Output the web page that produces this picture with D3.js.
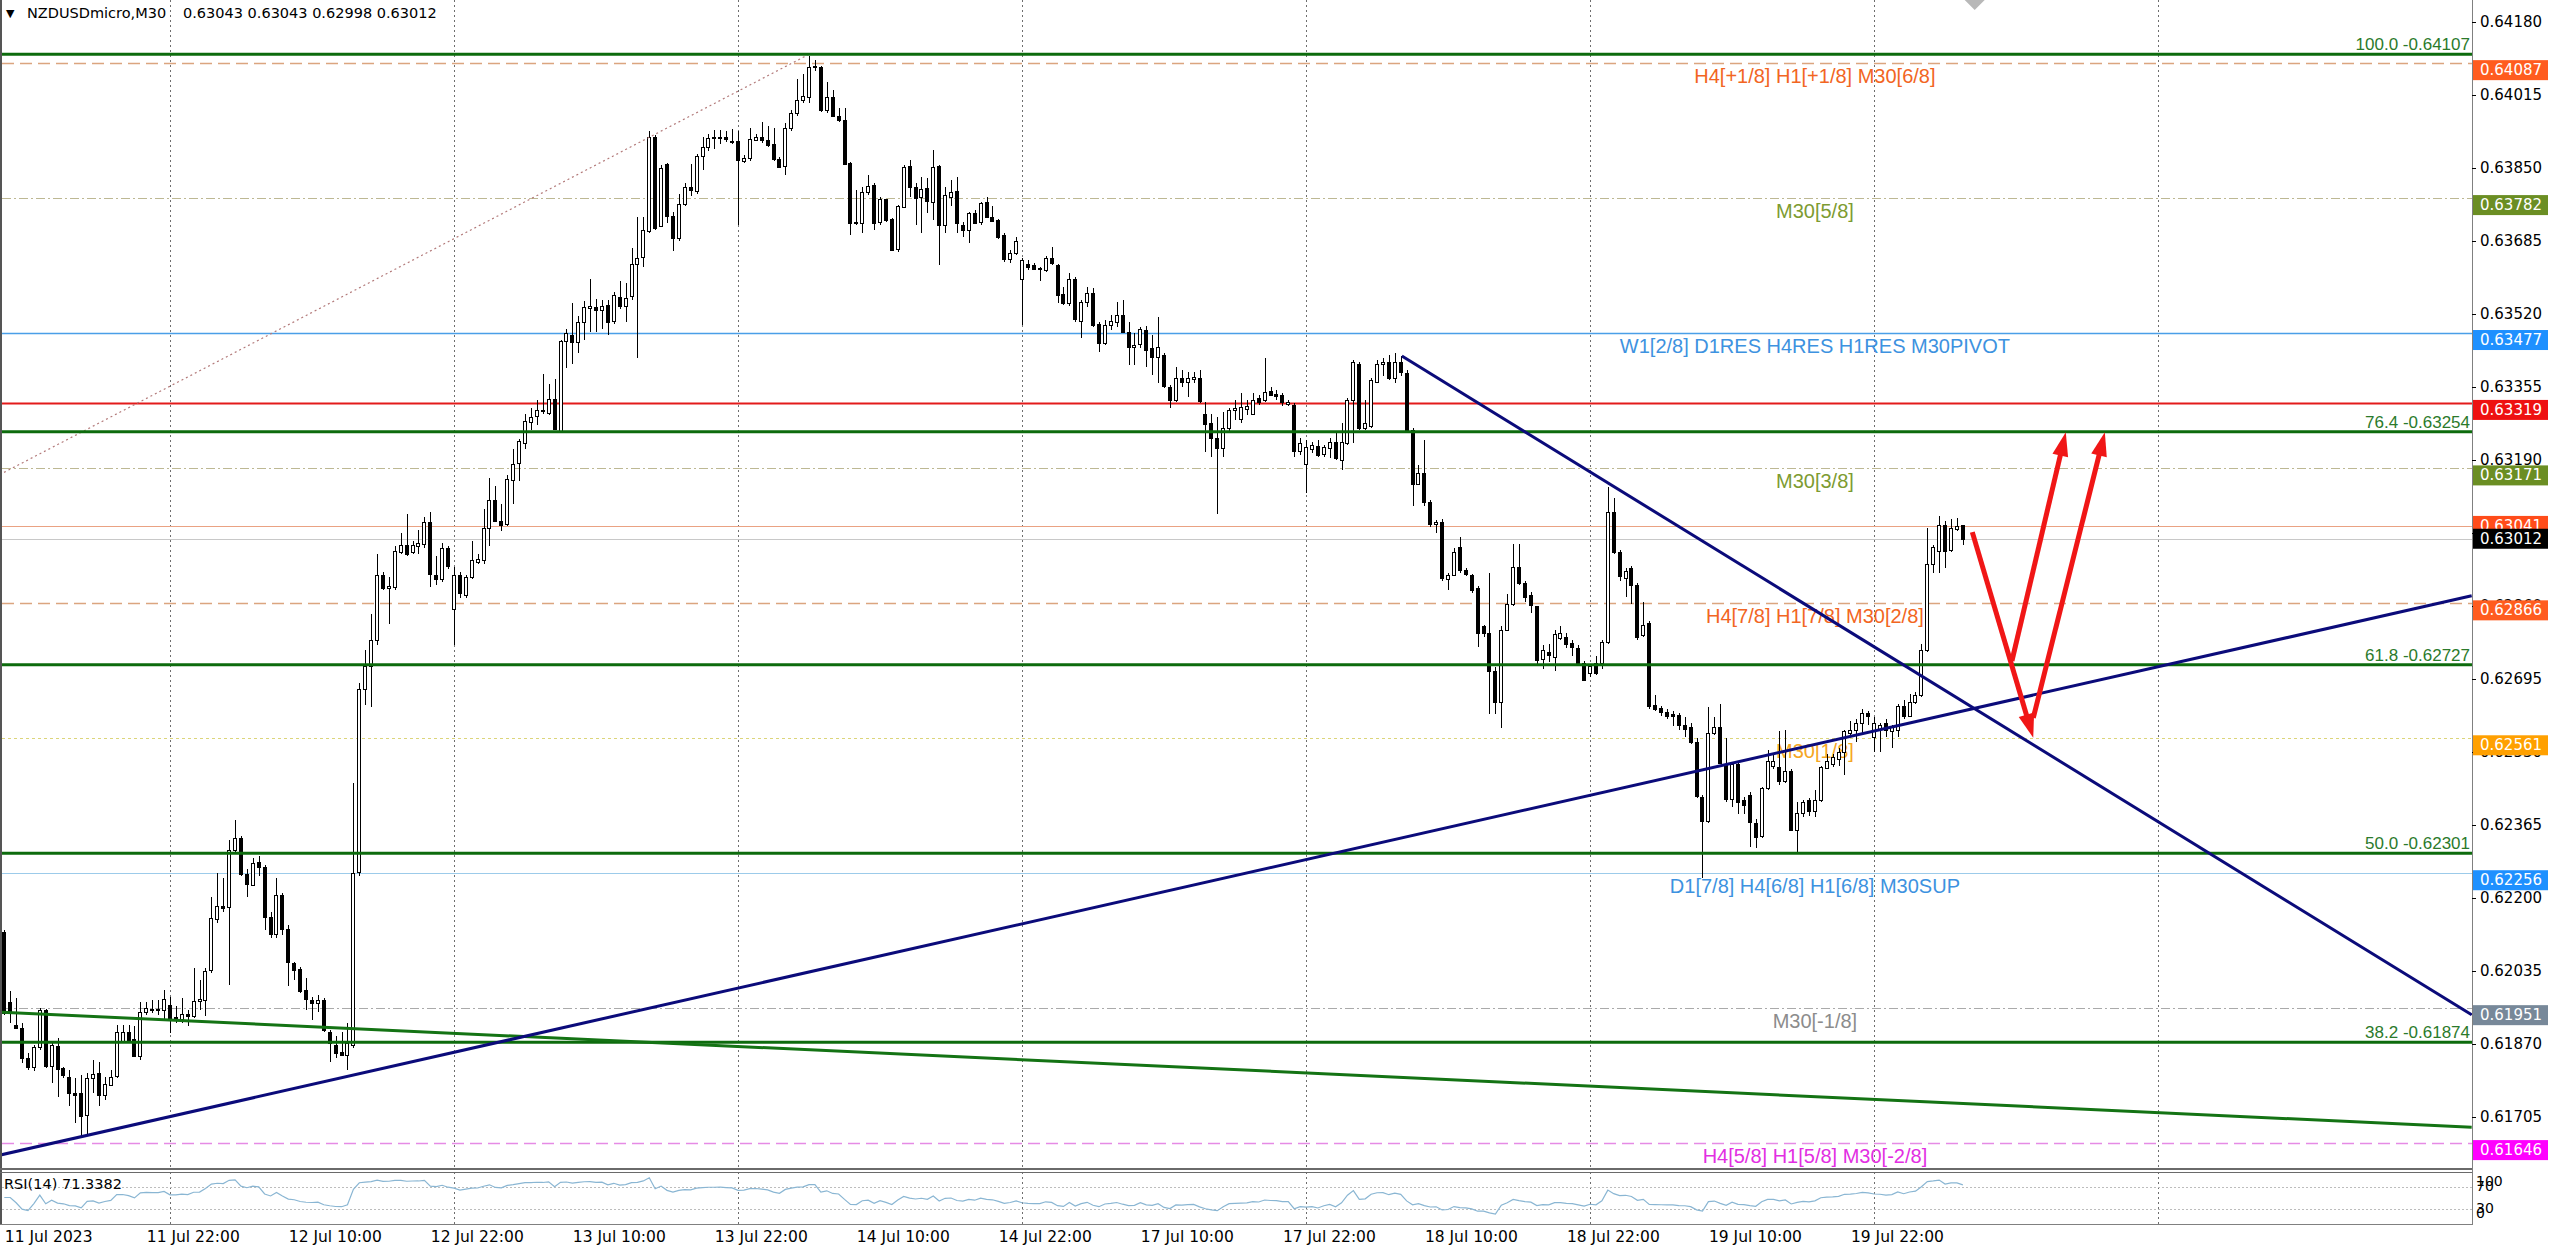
<!DOCTYPE html>
<html>
<head>
<meta charset="utf-8">
<title>NZDUSDmicro M30</title>
<script src="https://cdn.jsdelivr.net/npm/d3@7/dist/d3.min.js"></script>
<style>
html,body{margin:0;padding:0;background:#ffffff;overflow:hidden;}
svg{display:block;}
</style>
</head>
<body>
<svg id="chart" width="2560" height="1251"></svg>
<script>
// ================= DATA =================
const symbolName = "NZDUSDmicro,M30";
const quoteText = "0.63043 0.63043 0.62998 0.63012";
const rsiTitle = "RSI(14) 71.3382";

const opens = [
0.62124,0.61964,0.61913,0.61906,0.61838,0.61819,0.61864,0.61947,0.61821,0.61866,
0.61815,0.61796,0.61759,0.61760,0.61710,0.61794,0.61804,0.61754,0.61779,0.61796,
0.61875,0.61897,0.61881,0.61843,0.61943,0.61950,0.61949,0.61947,0.61958,0.61931,
0.61926,0.61937,0.61934,0.61966,0.61970,0.62036,0.62151,0.62182,0.62181,0.62309,
0.62335,0.62254,0.62231,0.62282,0.62270,0.62156,0.62117,0.62206,0.62130,0.62054,
0.62040,0.61991,0.61970,0.61964,0.61970,0.61898,0.61868,0.61851,0.61845,0.61868,
0.62258,0.62672,0.62725,0.62784,0.62931,0.62900,0.62902,0.62984,0.62999,0.62984,
0.62996,0.62999,0.63049,0.62931,0.62920,0.62990,0.62855,0.62931,0.62884,0.62925,
0.62961,0.62964,0.63037,0.63100,0.63053,0.63045,0.63146,0.63182,0.63230,0.63277,
0.63288,0.63302,0.63297,0.63329,0.63253,0.63458,0.63473,0.63458,0.63503,0.63533,
0.63536,0.63530,0.63541,0.63503,0.63558,0.63538,0.63560,0.63633,0.63647,0.63709,
0.63921,0.63721,0.63859,0.63741,0.63692,0.63768,0.63807,0.63800,0.63878,0.63898,
0.63916,0.63918,0.63920,0.63912,0.63910,0.63866,0.63871,0.63915,0.63919,0.63913,
0.63904,0.63871,0.63854,0.63941,0.63974,0.64004,0.64010,0.64078,0.64078,0.63980,
0.64010,0.63968,0.63959,0.63862,0.63728,0.63726,0.63796,0.63812,0.63728,0.63779,
0.63734,0.63665,0.63763,0.63855,0.63808,0.63784,0.63804,0.63774,0.63855,0.63721,
0.63785,0.63798,0.63721,0.63710,0.63748,0.63726,0.63774,0.63740,0.63732,0.63698,
0.63644,0.63658,0.63598,0.63633,0.63630,0.63623,0.63620,0.63646,0.63630,0.63565,
0.63544,0.63600,0.63506,0.63548,0.63568,0.63497,0.63454,0.63495,0.63503,0.63518,
0.63480,0.63446,0.63450,0.63484,0.63444,0.63424,0.63427,0.63356,0.63326,0.63375,
0.63367,0.63373,0.63375,0.63295,0.63273,0.63239,0.63216,0.63262,0.63303,0.63284,
0.63305,0.63295,0.63330,0.63326,0.63347,0.63339,0.63337,0.63318,0.63314,0.63209,
0.63182,0.63216,0.63222,0.63205,0.63218,0.63231,0.63190,0.63228,0.63326,0.63407,
0.63262,0.63266,0.63367,0.63408,0.63412,0.63375,0.63412,0.63386,0.63258,0.63137,
0.63161,0.63096,0.63045,0.63050,0.62923,0.62931,0.62994,0.62941,0.62929,0.62900,
0.62814,0.62799,0.62713,0.62643,0.62806,0.62865,0.62949,0.62912,0.62884,0.62861,
0.62740,0.62757,0.62745,0.62787,0.62791,0.62777,0.62766,0.62732,0.62709,0.62732,
0.62732,0.62779,0.63072,0.62982,0.62923,0.62947,0.62908,0.62795,0.62822,0.62637,
0.62629,0.62621,0.62616,0.62613,0.62592,0.62587,0.62553,0.62429,0.62374,0.62573,
0.62587,0.62503,0.62425,0.62503,0.62421,0.62432,0.62370,0.62339,0.62448,0.62499,
0.62495,0.62464,0.62487,0.62354,0.62393,0.62421,0.62397,0.62421,0.62495,0.62503,
0.62514,0.62530,0.62573,0.62580,0.62596,0.62619,0.62565,0.62584,0.62596,0.62577,
0.62580,0.62635,0.62612,0.62643,0.62658,0.62760,0.62955,0.62986,0.63044,0.62986,
0.63034,0.63043];

const highs = [
0.62128,0.61989,0.61974,0.61917,0.61849,0.61868,0.61951,0.61949,0.61872,0.61883,
0.61819,0.61812,0.61793,0.61800,0.61804,0.61834,0.61830,0.61796,0.61812,0.61913,
0.61913,0.61913,0.61910,0.61966,0.61966,0.61970,0.61970,0.61992,0.61977,0.61955,
0.61974,0.61947,0.62041,0.62015,0.62041,0.62203,0.62256,0.62245,0.62331,0.62377,
0.62340,0.62265,0.62290,0.62294,0.62275,0.62169,0.62245,0.62211,0.62139,0.62055,
0.62045,0.62019,0.61977,0.61981,0.61974,0.61902,0.61887,0.61898,0.61917,0.62460,
0.62685,0.62760,0.62843,0.62978,0.62937,0.62925,0.62996,0.63026,0.63067,0.63008,
0.63031,0.63061,0.63073,0.62972,0.63002,0.62996,0.62949,0.62937,0.62931,0.63008,
0.62978,0.63079,0.63149,0.63132,0.63090,0.63155,0.63214,0.63238,0.63293,0.63308,
0.63326,0.63385,0.63361,0.63373,0.63462,0.63485,0.63544,0.63515,0.63550,0.63600,
0.63554,0.63552,0.63552,0.63570,0.63595,0.63591,0.63670,0.63739,0.63739,0.63933,
0.63925,0.63857,0.63861,0.63750,0.63792,0.63815,0.63859,0.63882,0.63921,0.63927,
0.63937,0.63937,0.63933,0.63939,0.63933,0.63880,0.63941,0.63927,0.63953,0.63945,
0.63941,0.63874,0.63951,0.63980,0.64051,0.64063,0.64104,0.64094,0.64080,0.64045,
0.64026,0.63985,0.63985,0.63864,0.63800,0.63808,0.63834,0.63815,0.63785,0.63781,
0.63736,0.63766,0.63857,0.63868,0.63815,0.63830,0.63827,0.63891,0.63857,0.63808,
0.63823,0.63830,0.63729,0.63751,0.63755,0.63774,0.63785,0.63763,0.63734,0.63702,
0.63665,0.63693,0.63646,0.63642,0.63636,0.63627,0.63651,0.63671,0.63634,0.63582,
0.63612,0.63603,0.63552,0.63582,0.63578,0.63503,0.63507,0.63518,0.63548,0.63552,
0.63503,0.63476,0.63491,0.63493,0.63472,0.63514,0.63431,0.63360,0.63401,0.63393,
0.63390,0.63390,0.63394,0.63322,0.63295,0.63288,0.63299,0.63307,0.63326,0.63341,
0.63326,0.63341,0.63337,0.63420,0.63356,0.63348,0.63341,0.63326,0.63318,0.63239,
0.63235,0.63231,0.63235,0.63224,0.63239,0.63250,0.63273,0.63330,0.63416,0.63412,
0.63326,0.63375,0.63416,0.63420,0.63428,0.63431,0.63424,0.63393,0.63262,0.63179,
0.63235,0.63100,0.63055,0.63056,0.62935,0.62990,0.63015,0.62945,0.62933,0.62905,
0.62818,0.62935,0.62721,0.62814,0.62888,0.63001,0.63001,0.62916,0.62892,0.62861,
0.62771,0.62775,0.62806,0.62814,0.62799,0.62783,0.62771,0.62736,0.62729,0.62748,
0.62783,0.63130,0.63103,0.62986,0.62947,0.62951,0.62912,0.62869,0.62826,0.62658,
0.62635,0.62627,0.62623,0.62619,0.62608,0.62596,0.62561,0.62432,0.62631,0.62608,
0.62639,0.62561,0.62506,0.62510,0.62429,0.62440,0.62378,0.62452,0.62534,0.62526,
0.62577,0.62580,0.62491,0.62417,0.62421,0.62425,0.62444,0.62499,0.62526,0.62526,
0.62538,0.62580,0.62600,0.62604,0.62627,0.62623,0.62608,0.62596,0.62604,0.62592,
0.62639,0.62647,0.62662,0.62666,0.62775,0.63036,0.62998,0.63064,0.63052,0.63056,
0.63060,0.63043];

const lows = [
0.61935,0.61917,0.61903,0.61827,0.61812,0.61808,0.61857,0.61815,0.61781,0.61751,
0.61793,0.61729,0.61691,0.61657,0.61661,0.61759,0.61729,0.61744,0.61774,0.61793,
0.61872,0.61872,0.61842,0.61834,0.61936,0.61940,0.61936,0.61925,0.61894,0.61917,
0.61917,0.61910,0.61928,0.61947,0.61934,0.62030,0.62143,0.62169,0.62004,0.62305,
0.62249,0.62203,0.62226,0.62249,0.62128,0.62109,0.62109,0.62117,0.62000,0.62015,
0.61985,0.61947,0.61925,0.61943,0.61898,0.61830,0.61838,0.61845,0.61812,0.61860,
0.62250,0.62637,0.62631,0.62772,0.62896,0.62819,0.62896,0.62978,0.62972,0.62978,
0.62978,0.62990,0.62902,0.62908,0.62914,0.62943,0.62772,0.62878,0.62878,0.62920,
0.62955,0.62955,0.62996,0.63049,0.63029,0.63040,0.63090,0.63143,0.63214,0.63258,
0.63270,0.63293,0.63291,0.63258,0.63250,0.63399,0.63408,0.63432,0.63462,0.63479,
0.63479,0.63485,0.63473,0.63497,0.63532,0.63503,0.63552,0.63420,0.63627,0.63703,
0.63709,0.63717,0.63725,0.63662,0.63686,0.63764,0.63786,0.63792,0.63845,0.63888,
0.63892,0.63904,0.63909,0.63904,0.63721,0.63862,0.63866,0.63912,0.63907,0.63898,
0.63866,0.63850,0.63835,0.63933,0.63968,0.63998,0.63998,0.64069,0.63976,0.63974,
0.63966,0.63955,0.63857,0.63699,0.63721,0.63704,0.63789,0.63710,0.63721,0.63729,
0.63663,0.63661,0.63759,0.63785,0.63721,0.63704,0.63748,0.63733,0.63631,0.63702,
0.63763,0.63704,0.63695,0.63680,0.63725,0.63721,0.63740,0.63729,0.63690,0.63638,
0.63636,0.63653,0.63495,0.63620,0.63619,0.63595,0.63616,0.63630,0.63544,0.63540,
0.63537,0.63503,0.63465,0.63536,0.63491,0.63435,0.63450,0.63484,0.63491,0.63476,
0.63405,0.63405,0.63443,0.63401,0.63382,0.63363,0.63352,0.63307,0.63322,0.63356,
0.63333,0.63363,0.63318,0.63209,0.63197,0.63069,0.63197,0.63250,0.63280,0.63273,
0.63292,0.63292,0.63315,0.63322,0.63335,0.63326,0.63312,0.63311,0.63197,0.63201,
0.63115,0.63205,0.63197,0.63197,0.63194,0.63190,0.63167,0.63224,0.63228,0.63258,
0.63258,0.63262,0.63363,0.63380,0.63371,0.63365,0.63380,0.63250,0.63085,0.63133,
0.63085,0.63039,0.63024,0.62916,0.62896,0.62927,0.62935,0.62927,0.62890,0.62768,
0.62790,0.62616,0.62616,0.62584,0.62803,0.62861,0.62908,0.62869,0.62845,0.62729,
0.62717,0.62733,0.62713,0.62783,0.62764,0.62748,0.62725,0.62690,0.62700,0.62705,
0.62717,0.62775,0.62978,0.62916,0.62881,0.62865,0.62783,0.62791,0.62627,0.62623,
0.62612,0.62604,0.62588,0.62580,0.62565,0.62549,0.62425,0.62245,0.62370,0.62569,
0.62503,0.62417,0.62405,0.62390,0.62390,0.62315,0.62312,0.62335,0.62444,0.62491,
0.62456,0.62460,0.62351,0.62300,0.62382,0.62386,0.62382,0.62417,0.62491,0.62495,
0.62499,0.62479,0.62565,0.62553,0.62569,0.62592,0.62530,0.62530,0.62565,0.62538,
0.62565,0.62604,0.62608,0.62639,0.62655,0.62756,0.62935,0.62935,0.62947,0.62982,
0.63029,0.62998];

const closes = [
0.61940,0.61940,0.61906,0.61838,0.61818,0.61864,0.61947,0.61821,0.61868,0.61815,
0.61800,0.61759,0.61755,0.61708,0.61793,0.61802,0.61755,0.61779,0.61796,0.61896,
0.61897,0.61879,0.61843,0.61942,0.61952,0.61947,0.61950,0.61971,0.61926,0.61925,
0.61937,0.61932,0.61968,0.61971,0.62036,0.62154,0.62181,0.62178,0.62309,0.62335,
0.62254,0.62231,0.62280,0.62270,0.62156,0.62117,0.62206,0.62130,0.62055,0.62038,
0.61991,0.61970,0.61964,0.61970,0.61902,0.61874,0.61851,0.61845,0.61872,0.62256,
0.62672,0.62725,0.62784,0.62931,0.62902,0.62905,0.62984,0.62999,0.62978,0.62999,
0.63002,0.63049,0.62931,0.62923,0.62990,0.62949,0.62931,0.62890,0.62925,0.62964,
0.62967,0.63037,0.63100,0.63053,0.63045,0.63146,0.63182,0.63232,0.63279,0.63288,
0.63302,0.63299,0.63329,0.63261,0.63458,0.63477,0.63458,0.63503,0.63536,0.63538,
0.63530,0.63538,0.63503,0.63562,0.63538,0.63556,0.63633,0.63647,0.63709,0.63921,
0.63715,0.63851,0.63741,0.63692,0.63768,0.63807,0.63800,0.63878,0.63898,0.63918,
0.63919,0.63921,0.63915,0.63910,0.63868,0.63873,0.63915,0.63921,0.63912,0.63901,
0.63871,0.63854,0.63941,0.63974,0.64004,0.64012,0.64078,0.64080,0.63980,0.64010,
0.63968,0.63959,0.63859,0.63726,0.63725,0.63796,0.63809,0.63726,0.63779,0.63732,
0.63665,0.63763,0.63853,0.63808,0.63784,0.63802,0.63774,0.63852,0.63721,0.63789,
0.63796,0.63725,0.63710,0.63748,0.63726,0.63770,0.63740,0.63732,0.63693,0.63644,
0.63658,0.63686,0.63641,0.63627,0.63622,0.63620,0.63646,0.63634,0.63563,0.63544,
0.63598,0.63510,0.63548,0.63568,0.63495,0.63454,0.63495,0.63505,0.63518,0.63480,
0.63446,0.63450,0.63485,0.63439,0.63424,0.63446,0.63356,0.63326,0.63375,0.63367,
0.63375,0.63377,0.63322,0.63273,0.63239,0.63216,0.63262,0.63303,0.63307,0.63310,
0.63312,0.63326,0.63322,0.63344,0.63337,0.63335,0.63322,0.63322,0.63209,0.63228,
0.63220,0.63224,0.63201,0.63220,0.63231,0.63194,0.63231,0.63326,0.63412,0.63262,
0.63273,0.63371,0.63408,0.63412,0.63375,0.63412,0.63390,0.63254,0.63137,0.63161,
0.63096,0.63047,0.63050,0.62923,0.62931,0.62982,0.62941,0.62931,0.62896,0.62799,
0.62799,0.62713,0.62643,0.62806,0.62865,0.62949,0.62912,0.62881,0.62861,0.62740,
0.62761,0.62750,0.62797,0.62799,0.62775,0.62768,0.62732,0.62693,0.62725,0.62709,
0.62779,0.63072,0.62982,0.62927,0.62939,0.62908,0.62791,0.62818,0.62635,0.62627,
0.62619,0.62613,0.62612,0.62590,0.62584,0.62553,0.62432,0.62374,0.62573,0.62587,
0.62506,0.62425,0.62503,0.62417,0.62409,0.62370,0.62339,0.62448,0.62510,0.62510,
0.62464,0.62487,0.62354,0.62393,0.62417,0.62397,0.62421,0.62495,0.62510,0.62518,
0.62530,0.62577,0.62580,0.62596,0.62619,0.62612,0.62596,0.62592,0.62580,0.62588,
0.62635,0.62612,0.62643,0.62658,0.62760,0.62955,0.62994,0.63044,0.62986,0.63036,
0.63040,0.63012];

// time axis (bar index of each label; one bar = 30 minutes)
const dateLabels = ["11 Jul 2023","11 Jul 22:00","12 Jul 10:00","12 Jul 22:00","13 Jul 10:00","13 Jul 22:00","14 Jul 10:00","14 Jul 22:00","17 Jul 10:00","17 Jul 22:00","18 Jul 10:00","18 Jul 22:00","19 Jul 10:00","19 Jul 22:00"];
const dateLabelBars = [0,24,48,72,96,120,144,168,192,216,240,264,288,312];
const dayGridBars = [28,76,124,172,220,268,316,364];
const barsOnScreen = 417;

// price axis
const priceTicks = [0.61705,0.61870,0.62035,0.62200,0.62365,0.62530,0.62695,0.62860,0.63025,0.63190,0.63355,0.63520,0.63685,0.63850,0.64015,0.64180];
const rsiTicks = [100,70,30,0];
const rsiLevels = [70,30];

// horizontal levels (Murrey math / pivots)
const levelPrices = [0.64087,0.63782,0.63477,0.63319,0.63171,0.63041,0.62866,0.62561,0.62256,0.61951,0.61646];
const levelLabels = ["H4[+1/8] H1[+1/8] M30[6/8]","M30[5/8]","W1[2/8] D1RES H4RES H1RES M30PIVOT","","M30[3/8]","","H4[7/8] H1[7/8] M30[2/8]","M30[1/8]","D1[7/8] H4[6/8] H1[6/8] M30SUP","M30[-1/8]","H4[5/8] H1[5/8] M30[-2/8]"];
const currentPrice = 0.63012;

// Fibonacci retracement
const fibRatios = [100.0,76.4,61.8,50.0,38.2];
const fibPrices = [0.64107,0.63254,0.62727,0.62301,0.61874];
const fibAnchor = [[-384,0.60495],[136,0.64107]];

// trendlines [barIndex, price]
const supportLine = [[-0.73,0.61619],[417,0.62883]];
const resistLine = [[236.2,0.63425],[417,0.61936]];
const greenLine = [[-0.73,0.61942],[417,0.61682]];

// projection arrows [barIndex, price]
const arrowPaths = [
  [[332.6,0.63027],[342.9,0.62562]],
  [[339.3,0.62736],[348.4,0.63253]],
  [[342.9,0.62607],[355.0,0.63253]]
];

// ================= STYLES / LAYOUT =================
const LAY = {left:2, right:2472, top:0, bottom:1169, rsiTop:1172, rsiBottom:1224};
const levelStyles = [
 {stroke:"#dba57f", dash:"12,6",    w:1.5, text:"#f26522", tag:"#ff5c1f", off:-3},
 {stroke:"#bdb893", dash:"9,3,2,3", w:1,   text:"#7d9b32", tag:"#6b8e23", off:-3},
 {stroke:"#4a9fe8", dash:null,      w:1.5, text:"#3d92e0", tag:"#1e90ff", off:-3},
 {stroke:"#e31b1b", dash:null,      w:2,   text:"#e31b1b", tag:"#ee1111", off:-3},
 {stroke:"#bdb893", dash:"9,3,2,3", w:1,   text:"#7d9b32", tag:"#6b8e23", off:-3},
 {stroke:"#eaa283", dash:null,      w:1,   text:"#f26522", tag:"#ff4c1a", off:-10},
 {stroke:"#dba57f", dash:"12,6",    w:1.5, text:"#f26522", tag:"#ff5c1f", off:-3},
 {stroke:"#dcd57a", dash:"3,3",     w:1,   text:"#f5a623", tag:"#ffa000", off:-3},
 {stroke:"#9ccbea", dash:null,      w:1,   text:"#3d92e0", tag:"#1e90ff", off:-3},
 {stroke:"#aaaaaa", dash:"9,3,2,3", w:1,   text:"#8c8c8c", tag:"#778899", off:-3},
 {stroke:"#e58be5", dash:"12,6",    w:1.5, text:"#e22ee2", tag:"#ff00ff", off:-3}
];
const labelBar = 306;
const AXIS_FONT = "'DejaVu Sans', Verdana, sans-serif";
const OBJ_FONT = "'Liberation Sans', Arial, sans-serif";

// ================= SCALES =================
const X = d3.scaleLinear().domain([0, barsOnScreen]).range([4.3, 2471.7]);
const Y = d3.scaleLinear().domain([0.61705, 0.64180]).range([1117, 22]);
const R = d3.scaleLinear().domain([0, 100]).range([1225, 1170]);

const svg = d3.select("#chart");
svg.append("rect").attr("width",2560).attr("height",1251).attr("fill","#ffffff");

const defs = svg.append("defs");
defs.append("clipPath").attr("id","plotClip").append("rect")
  .attr("x",LAY.left).attr("y",LAY.top).attr("width",LAY.right-LAY.left).attr("height",LAY.bottom-LAY.top);
defs.append("clipPath").attr("id","rsiClip").append("rect")
  .attr("x",LAY.left).attr("y",LAY.rsiTop).attr("width",LAY.right-LAY.left).attr("height",LAY.rsiBottom-LAY.rsiTop);

// ---------- grid ----------
const grid = svg.append("g");
dayGridBars.forEach(b => {
  const gx = Math.round(X(b)) + 0.5;
  [[LAY.top, LAY.bottom],[LAY.rsiTop, LAY.rsiBottom]].forEach(([a,z]) => {
    grid.append("line").attr("x1",gx).attr("x2",gx).attr("y1",a).attr("y2",z)
      .attr("stroke","#6e6e6e").attr("stroke-width",1).attr("stroke-dasharray","2,3");
  });
});

// ---------- level lines ----------
const plot = svg.append("g").attr("clip-path","url(#plotClip)");
const lv = plot.append("g");
levelPrices.forEach((p,i) => {
  const s = levelStyles[i];
  const ly = Math.round(Y(p)) + 0.5;
  const ln = lv.append("line").attr("x1",LAY.left).attr("x2",LAY.right).attr("y1",ly).attr("y2",ly)
    .attr("stroke",s.stroke).attr("stroke-width",s.w);
  if (s.dash) ln.attr("stroke-dasharray",s.dash);
});
// current price line
lv.append("line").attr("x1",LAY.left).attr("x2",LAY.right)
  .attr("y1",Math.round(Y(currentPrice))+0.5).attr("y2",Math.round(Y(currentPrice))+0.5)
  .attr("stroke","#c8c8c8").attr("stroke-width",1);
// level labels
levelPrices.forEach((p,i) => {
  if (!levelLabels[i]) return;
  lv.append("text").attr("x",X(labelBar)).attr("y",Y(p)+13)
    .attr("text-anchor","middle").attr("dominant-baseline","central")
    .attr("font-family",OBJ_FONT).attr("font-size",20).attr("fill",levelStyles[i].text)
    .text(levelLabels[i]);
});

// ---------- candles ----------
const candles = d3.range(closes.length).map(i => ({i, o:opens[i], h:highs[i], l:lows[i], c:closes[i]}));
const cg = plot.append("g").attr("shape-rendering","crispEdges");
cg.selectAll("line.wick").data(candles).join("line").attr("class","wick")
  .attr("x1",d => Math.round(X(d.i))+0.5).attr("x2",d => Math.round(X(d.i))+0.5)
  .attr("y1",d => Y(d.h)).attr("y2",d => Y(d.l))
  .attr("stroke","#000").attr("stroke-width",1);
cg.selectAll("rect.body").data(candles).join("rect").attr("class","body")
  .attr("x",d => Math.round(X(d.i))-1.5)
  .attr("width",3)
  .attr("y",d => Math.round(Math.min(Y(d.o),Y(d.c)))+0.5)
  .attr("height",d => Math.max(1, Math.round(Math.abs(Y(d.o)-Y(d.c)))))
  .attr("fill",d => d.c >= d.o ? "#ffffff" : "#000000")
  .attr("stroke","#000").attr("stroke-width",1);

// ---------- fibonacci ----------
const fg = plot.append("g");
fg.append("line")
  .attr("x1",X(fibAnchor[0][0])).attr("y1",Y(fibAnchor[0][1]))
  .attr("x2",X(fibAnchor[1][0])).attr("y2",Y(fibAnchor[1][1]))
  .attr("stroke","#b37a7a").attr("stroke-width",1.2).attr("stroke-dasharray","2,3");
fibPrices.forEach((p,i) => {
  const fy = Y(p);
  fg.append("line").attr("x1",LAY.left).attr("x2",LAY.right).attr("y1",fy).attr("y2",fy)
    .attr("stroke","#0d6b0d").attr("stroke-width",3);
  fg.append("text").attr("x",LAY.right-2).attr("y",fy-4)
    .attr("text-anchor","end").attr("font-family",OBJ_FONT).attr("font-size",17)
    .attr("fill","#2b7a2b").text(fibRatios[i].toFixed(1) + " -" + p.toFixed(5));
});

// ---------- trendlines ----------
const tl = d3.line().x(d => X(d[0])).y(d => Y(d[1]));
plot.append("path").attr("d",tl(greenLine)).attr("fill","none").attr("stroke","#147314").attr("stroke-width",3);
plot.append("path").attr("d",tl(supportLine)).attr("fill","none").attr("stroke","#0b0b7a").attr("stroke-width",3);
plot.append("path").attr("d",tl(resistLine)).attr("fill","none").attr("stroke","#0b0b7a").attr("stroke-width",3);

// ---------- arrows ----------
const ag = plot.append("g");
arrowPaths.forEach(pts => {
  const x0 = X(pts[0][0]), y0 = Y(pts[0][1]), x1 = X(pts[1][0]), y1 = Y(pts[1][1]);
  const dx = x1-x0, dy = y1-y0, len = Math.hypot(dx,dy), ux = dx/len, uy = dy/len;
  const headL = 24, headW = 8;
  const bx = x1 - ux*headL, by = y1 - uy*headL;
  ag.append("line").attr("x1",x0).attr("y1",y0).attr("x2",bx+ux*2).attr("y2",by+uy*2)
    .attr("stroke","#f01616").attr("stroke-width",5);
  ag.append("polygon")
    .attr("points",[[x1,y1],[bx-uy*headW,by+ux*headW],[bx+uy*headW,by-ux*headW]].map(q=>q.join(",")).join(" "))
    .attr("fill","#f01616");
});

// ---------- shift marker ----------
const sx = X(closes.length + 1);
svg.append("polygon").attr("points",`${sx-10},0 ${sx+10},0 ${sx},10`).attr("fill","#b8b8b8");

// ---------- RSI ----------
const rsi = [];
let avgG = 0.00006, avgL = 0.00006;
closes.forEach((c,i) => {
  if (i > 0) {
    const ch = c - closes[i-1];
    avgG = (avgG*13 + Math.max(ch,0))/14;
    avgL = (avgL*13 + Math.max(-ch,0))/14;
  }
  rsi.push(100 - 100/(1 + avgG/avgL));
});
const rg = svg.append("g").attr("clip-path","url(#rsiClip)");
rsiLevels.forEach(v => {
  rg.append("line").attr("x1",LAY.left).attr("x2",LAY.right).attr("y1",Math.round(R(v))+0.5).attr("y2",Math.round(R(v))+0.5)
    .attr("stroke","#bdbdbd").attr("stroke-width",1).attr("stroke-dasharray","2,2");
});
rg.append("path").datum(rsi)
  .attr("d",d3.line().x((d,i)=>X(i)).y(d=>R(d)))
  .attr("fill","none").attr("stroke","#8ab6d3").attr("stroke-width",1.2);
svg.append("text").attr("x",4).attr("y",1184).attr("dominant-baseline","central")
  .attr("font-family",AXIS_FONT).attr("font-size",14.5).attr("fill","#000").text(rsiTitle);

// ---------- frames ----------
const fr = svg.append("g").attr("shape-rendering","crispEdges");
fr.append("line").attr("x1",0.5).attr("x2",0.5).attr("y1",0).attr("y2",LAY.rsiBottom).attr("stroke","#555").attr("stroke-width",2);
fr.append("line").attr("x1",LAY.right+0.5).attr("x2",LAY.right+0.5).attr("y1",0).attr("y2",LAY.rsiBottom+0.5).attr("stroke","#808080").attr("stroke-width",1);
fr.append("line").attr("x1",0).attr("x2",LAY.right).attr("y1",LAY.bottom).attr("y2",LAY.bottom).attr("stroke","#6a6a6a").attr("stroke-width",2);
fr.append("line").attr("x1",0).attr("x2",LAY.right).attr("y1",LAY.rsiTop+0.5).attr("y2",LAY.rsiTop+0.5).attr("stroke","#6a6a6a").attr("stroke-width",1);
fr.append("line").attr("x1",0).attr("x2",LAY.right).attr("y1",LAY.rsiBottom+0.5).attr("y2",LAY.rsiBottom+0.5).attr("stroke","#808080").attr("stroke-width",1);

// ---------- price axis ----------
const yAxisG = svg.append("g").attr("transform",`translate(${LAY.right},0)`)
  .call(d3.axisRight(Y).tickValues(priceTicks).tickFormat(d3.format(".5f")).tickSize(4).tickPadding(4));
yAxisG.select(".domain").remove();
yAxisG.selectAll("text").attr("font-family",AXIS_FONT).attr("font-size",15).attr("fill","#000");
yAxisG.selectAll("line").attr("stroke","#000");

// RSI axis
const rAxisG = svg.append("g").attr("transform",`translate(${LAY.right},0)`)
  .call(d3.axisRight(R).tickValues(rsiTicks).tickSize(0).tickPadding(4));
rAxisG.select(".domain").remove();
rAxisG.selectAll(".tick").attr("transform", d => `translate(0,${Math.min(Math.max(R(d), LAY.rsiTop+10), LAY.rsiBottom-10)})`);
rAxisG.selectAll("text").attr("font-family",AXIS_FONT).attr("font-size",14).attr("fill","#000");

// price tags
const tags = svg.append("g");
function drawTag(p, fill, off) {
  const ty = Y(p) + off;
  tags.append("rect").attr("x",LAY.right+1).attr("y",ty).attr("width",75).attr("height",20).attr("fill",fill);
  tags.append("text").attr("x",LAY.right+8).attr("y",ty+10).attr("dominant-baseline","central")
    .attr("font-family",AXIS_FONT).attr("font-size",15).attr("fill","#ffffff").text(p.toFixed(5));
}
levelPrices.forEach((p,i) => drawTag(p, levelStyles[i].tag, levelStyles[i].off));
drawTag(currentPrice, "#000000", -10);

// ---------- time axis ----------
const xAxisG = svg.append("g").attr("transform",`translate(0,${LAY.rsiBottom+4})`)
  .call(d3.axisBottom(X).tickValues(dateLabelBars).tickFormat((d,i)=>dateLabels[i]).tickSize(0).tickPadding(0));
xAxisG.select(".domain").remove();
xAxisG.selectAll("text").attr("text-anchor","start").attr("dy","0").attr("y",9)
  .attr("dominant-baseline","central")
  .attr("font-family",AXIS_FONT).attr("font-size",15.5).attr("fill","#000");

// ---------- title ----------
svg.append("text").attr("x",6).attr("y",13).attr("dominant-baseline","central")
  .attr("font-family",AXIS_FONT).attr("font-size",11).attr("fill","#000").text("▼");
svg.append("text").attr("x",27).attr("y",13).attr("dominant-baseline","central")
  .attr("font-family",AXIS_FONT).attr("font-size",14.5).attr("fill","#000").text(symbolName);
svg.append("text").attr("x",183).attr("y",13).attr("dominant-baseline","central")
  .attr("font-family",AXIS_FONT).attr("font-size",14.5).attr("fill","#000").text(quoteText);
</script>
</body>
</html>
